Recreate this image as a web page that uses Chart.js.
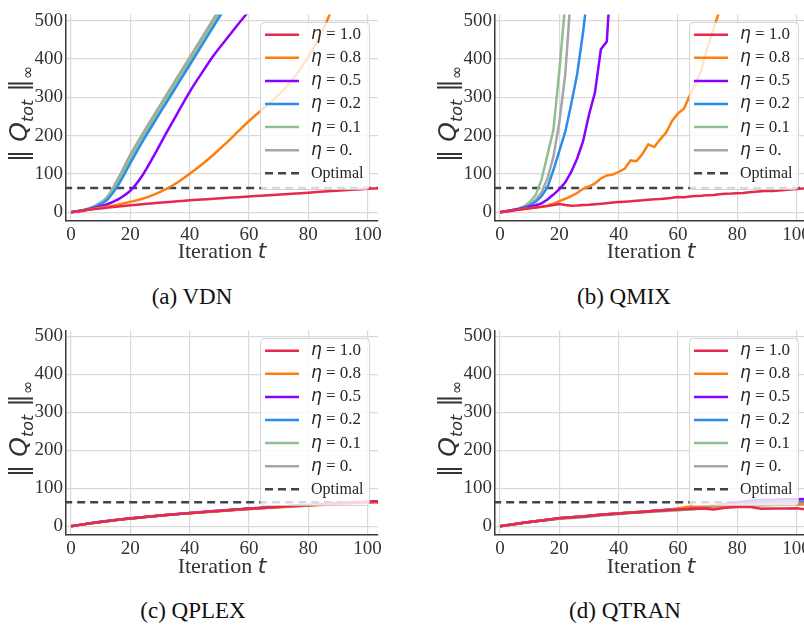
<!DOCTYPE html>
<html>
<head>
<meta charset="utf-8">
<script src="https://cdn.jsdelivr.net/npm/chart.js@4.4.1/dist/chart.umd.min.js"></script>
<style>
    html, body { margin: 0; padding: 0; background: #fff; overflow: hidden; width: 804px; height: 626px; }
    .panel { position: absolute; }
    .ylab {
        position: absolute; font-family: 'DejaVu Sans', sans-serif; font-size: 25px; color: #333;
        transform: translate(-50%, -50%) rotate(-90deg); white-space: nowrap;
    }
    .ylab sub { font-size: 16px; }
    .xlab {
        position: absolute; font-family: 'Liberation Serif', serif; font-size: 22px; color: #333;
        transform: translate(-50%, -50%); white-space: nowrap;
    }
    .xlab i { font-family: 'DejaVu Sans', sans-serif; }
    .caption {
        position: absolute; font-family: 'Liberation Serif', serif; font-size: 23px; color: #111;
        transform: translate(-50%, -50%); white-space: nowrap;
    }
</style>
</head>
<body>
<div class="panel" style="left:0px; top:0px"><canvas id="vdnChart" width="400" height="250"></canvas></div>
<div class="panel" style="left:429px; top:0px"><canvas id="qmixChart" width="400" height="250"></canvas></div>
<div class="panel" style="left:0px; top:316px"><canvas id="qplexChart" width="400" height="248"></canvas></div>
<div class="panel" style="left:429px; top:316px"><canvas id="qtranChart" width="400" height="248"></canvas></div>

<div class="ylab" style="left:20px; top:114px">‖ <i>Q</i><sub><i>tot</i></sub> ‖<sub>∞</sub></div>
<div class="ylab" style="left:449px; top:114px">‖ <i>Q</i><sub><i>tot</i></sub> ‖<sub>∞</sub></div>
<div class="ylab" style="left:20px; top:429px">‖ <i>Q</i><sub><i>tot</i></sub> ‖<sub>∞</sub></div>
<div class="ylab" style="left:449px; top:429px">‖ <i>Q</i><sub><i>tot</i></sub> ‖<sub>∞</sub></div>

<div class="xlab" style="left:222px; top:251px">Iteration <i>t</i></div>
<div class="xlab" style="left:651px; top:251px">Iteration <i>t</i></div>
<div class="xlab" style="left:222px; top:566px">Iteration <i>t</i></div>
<div class="xlab" style="left:651px; top:566px">Iteration <i>t</i></div>

<div class="caption" style="left:192px; top:297px">(a) VDN</div>
<div class="caption" style="left:624px; top:297px">(b) QMIX</div>
<div class="caption" style="left:193px; top:611px">(c) QPLEX</div>
<div class="caption" style="left:625px; top:611px">(d) QTRAN</div>

<script>
// Tick labels and legend text
const xTicks = [0, 20, 40, 60, 80, 100];
const yTicks = [0, 100, 200, 300, 400, 500];
const etaLabels = ['η = 1.0', 'η = 0.8', 'η = 0.5', 'η = 0.2', 'η = 0.1', 'η = 0.'];
const optimalValue = 63;

// iteration grids
const tStep4 = [0, 4, 8, 12, 16, 20, 24, 28, 32, 36, 40, 44, 48, 52, 56, 60, 64, 68, 72, 76, 80, 84, 88, 92, 96, 100, 104];
const tStep2 = [0, 2, 4, 6, 8, 10, 12, 14, 16, 18, 20, 22, 24, 26, 28, 30, 32, 34, 36, 38, 40, 42, 44, 46, 48, 50,
    52, 54, 56, 58, 60, 62, 64, 66, 68, 70, 72, 74, 76, 78, 80, 82, 84, 86, 88, 90, 92, 94, 96, 98, 100, 102, 104];

// (a) VDN - on tStep4, series stop once they leave the plot
const vdnEta10 = [0, 4, 8, 11.5, 15, 18, 21, 23.5, 26, 28.5, 31, 33, 35, 37, 39, 41, 43, 45, 47, 49, 51, 53, 55, 57, 59, 61, 63];
const vdnEta08 = [0, 4, 9, 14, 20, 27, 35, 46, 60, 78, 100, 124, 150, 178, 208, 238, 265, 292, 322, 360, 405, 460, 530];
const vdnEta05 = [0, 4.5, 11, 20, 34, 56, 95, 148, 205, 260, 314, 362, 408, 448, 487, 525];
const vdnEta02 = [0, 5, 14, 31, 72, 128, 183, 234, 284, 334, 384, 434, 484, 534];
const vdnEta01 = [0, 5, 15, 35, 82, 140, 194, 245, 295, 345, 395, 445, 495, 545];
const vdnEta00 = [0, 5, 16, 38, 90, 150, 203, 254, 304, 354, 404, 454, 504, 554];

// (b) QMIX - on tStep2
const qmixEta10 = [0, 2, 4, 6, 8, 10, 12, 14, 16, 18.5, 21, 18.5, 17, 17.5, 18.5, 19.5, 21, 22, 23.5, 25, 26.5, 27.5, 28.5,
    30, 31, 32.5, 33.5, 34.5, 36, 37.5, 39.5, 39, 41, 42, 43, 44.5, 45, 46.5, 48, 48.5, 49.5, 50, 52, 53, 54.5, 56, 55,
    56.5, 58, 59, 60.5, 61.5, 63];
const qmixEta08 = [0, 2, 4, 6, 8.5, 10.5, 12.5, 14.5, 17.5, 22, 29, 35, 42, 50, 61, 67, 75, 88, 96, 98, 105, 113, 135,
    133, 152, 177, 170, 190, 208, 238, 258, 270, 305, 335, 375, 430, 480, 525];
const qmixEta05 = [0, 2.5, 5, 7.5, 10.5, 14, 18, 23, 33, 46, 60, 78, 105, 140, 185, 255, 312, 425, 445, 700];
const qmixEta02 = [0, 2.5, 5, 8, 12, 18, 27, 42, 65, 110, 160, 210, 282, 360, 470, 600];
const qmixEta01 = [0, 2.5, 5.5, 9, 15, 26, 45, 85, 150, 215, 370, 545];
const qmixEta00 = [0, 2.5, 5, 8, 13, 20, 32, 52, 88, 145, 235, 360, 580];

// (c) QPLEX - on tStep4, all settings almost coincide
const qplexEta10 = [0, 5, 9.5, 13.5, 17, 20.5, 23.5, 26.5, 29.5, 32, 34.5, 37, 39.5, 41.5, 44, 46, 48, 50, 52, 54, 55.5, 57.5, 59, 61, 62.5, 64, 65.5];
const qplexEta08 = [0, 5, 9.5, 13.5, 17, 20.5, 23.5, 26.5, 29.5, 32, 34.5, 37, 39, 41, 43.5, 45.5, 47.5, 49.5, 51, 53, 54.5, 56, 57.5, 59, 60.5, 62, 63.5];
const qplexEta05 = [0, 5, 10, 14, 17.5, 21, 24, 27, 30, 32.5, 35, 37.5, 40, 42, 44.5, 46.5, 48.5, 50.5, 52.5, 54.5, 56, 58, 59.5, 61.5, 63, 64.5, 66];
const qplexEta02 = [0, 5, 9.5, 13.5, 17, 20.5, 23.5, 26.5, 29.5, 32.5, 35, 37, 39.5, 41.5, 44, 46, 48, 50, 52, 54, 55.5, 57.5, 59, 61, 62.5, 64, 65.5];
const qplexEta01 = [0, 5, 9.5, 13.5, 17, 20.5, 23.5, 26.5, 29.5, 32, 34.5, 37, 39.5, 41.5, 43.5, 45.5, 47.5, 49.5, 51.5, 53.5, 55, 57, 58.5, 60.5, 62, 63.5, 65];
const qplexEta00 = [0, 5, 9.5, 13.5, 17, 20.5, 23.5, 26.5, 29.5, 32, 34.5, 37, 39.5, 41.5, 43.5, 45.5, 47.5, 49.5, 51.5, 53.5, 55, 57, 58.5, 60.5, 62, 63.5, 65];

// (d) QTRAN - on tStep4, settings split apart after ~60
const qtranEta10 = [0, 4.5, 9, 13, 17, 21.5, 23.5, 26, 29, 31.5, 33.5, 36, 37.5, 40, 42, 44, 45.5, 46.5, 44.5, 49, 51, 51.5, 46, 46.5, 47, 47.5, 44];
const qtranEta08 = [0, 4.5, 9, 13, 17.5, 21, 24, 26.5, 29, 31.5, 34, 36, 38, 40.5, 42, 47, 52, 53, 54, 55, 56, 56.5, 57, 58, 58.5, 59, 59];
const qtranEta05 = [0, 4.5, 9, 13, 17, 21, 23.5, 26, 29, 31.5, 33.5, 36, 38.5, 41, 43, 45, 48, 51, 55, 59, 63, 67, 69, 70, 71, 71.5, 72];
const qtranEta02 = [0, 4.5, 9, 13, 17, 21, 23.5, 26, 29, 31.5, 33.5, 36, 38.5, 41, 43.5, 46, 48.5, 51, 54, 57, 60, 62, 63, 63.5, 64, 64.5, 65];
const qtranEta01 = [0, 4.5, 9, 13, 16.5, 20, 22.5, 25, 28, 31, 33, 35, 37, 39, 40.5, 42, 44, 46.5, 49, 51, 53, 55, 56.5, 57.5, 58.5, 59.5, 60];
const qtranEta00 = [0, 4.5, 9, 13, 16.5, 19.5, 21.5, 23.5, 27, 30, 32.5, 35, 37, 39, 41, 43, 45, 47, 49, 51, 53, 54, 55, 56, 56.5, 57, 57.5];

// line colours, same order as etaLabels
const lineColors = ['#e8294f', '#ff7f0e', '#8c00ff', '#2b8cee', '#8fbf8f', '#a6a6a6'];
const optimalColor = '#3c4650';

const X_MIN = -1.7, X_MAX = 103.5, Y_MIN = -23, Y_MAX = 516;

// legend drawn inside the plot, matplotlib style (framealpha 0.8)
const legendBox = {
    id: 'legendBox',
    afterDraw(chart) {
        const { ctx, chartArea } = chart;
        const w = 109, h = 167;
        const left = Math.round(chartArea.right - 9 - w);
        const top = Math.round(chartArea.top + 8);
        ctx.save();
        ctx.beginPath();
        ctx.roundRect(left + 0.5, top + 0.5, w, h, 4);
        ctx.fillStyle = 'rgba(255, 255, 255, 0.8)';
        ctx.fill();
        ctx.strokeStyle = 'rgba(204, 204, 204, 0.8)';
        ctx.lineWidth = 1;
        ctx.stroke();
        chart.data.datasets.forEach((ds, i) => {
            const y = top + 12.7 + i * 23.1;
            ctx.beginPath();
            ctx.setLineDash(ds.borderDash || []);
            ctx.strokeStyle = ds.borderColor;
            ctx.lineWidth = ds.borderWidth;
            ctx.moveTo(left + 5, y);
            ctx.lineTo(left + 39, y);
            ctx.stroke();
            ctx.setLineDash([]);
            ctx.fillStyle = '#262626';
            ctx.textBaseline = 'middle';
            let tx = left + 51;
            if (ds.label.startsWith('η')) {
                ctx.font = 'italic 17px "DejaVu Sans"';
                ctx.fillText('η', tx, y);
                tx += ctx.measureText('η').width;
                ctx.font = '17px "Liberation Serif"';
                ctx.fillText(ds.label.slice(1), tx, y);
            } else {
                ctx.font = '16px "Liberation Serif"';
                ctx.fillText(ds.label, tx, y);
            }
        });
        ctx.restore();
    }
};

function makeDatasets(ts, seriesList, smooth) {
    const sets = seriesList.map((ys, i) => ({
        label: etaLabels[i],
        data: ys.map((y, j) => ({ x: ts[j], y: y })),
        borderColor: lineColors[i],
        borderWidth: 2.5,
        pointRadius: 0,
        fill: false,
        tension: 0,
        cubicInterpolationMode: smooth ? 'monotone' : 'default'
    }));
    sets.push({
        label: 'Optimal',
        data: [{ x: X_MIN - 5, y: optimalValue }, { x: X_MAX + 5, y: optimalValue }],
        borderColor: optimalColor,
        borderWidth: 2.5,
        borderDash: [8, 5],
        pointRadius: 0,
        fill: false
    });
    return sets;
}

function makeChart(id, ts, seriesList, smooth) {
    const tickFont = { family: "'Liberation Serif', serif", size: 19 };
    return new Chart(document.getElementById(id).getContext('2d'), {
        type: 'line',
        data: { datasets: makeDatasets(ts, seriesList, smooth) },
        options: {
            responsive: false,
            animation: false,
            layout: { padding: { left: 0, right: 22, top: 7, bottom: 0 } },
            plugins: {
                legend: { display: false },
                tooltip: { enabled: false }
            },
            scales: {
                x: {
                    type: 'linear',
                    min: X_MIN,
                    max: X_MAX,
                    afterBuildTicks: axis => { axis.ticks = xTicks.map(v => ({ value: v })); },
                    afterFit: axis => { axis.height = 29; },
                    grid: { color: '#d9d9d9', lineWidth: 1.2, drawTicks: false },
                    border: { color: '#3a3a3a', width: 1.5 },
                    ticks: { font: tickFont, color: '#333', padding: 3, maxRotation: 0 }
                },
                y: {
                    min: Y_MIN,
                    max: Y_MAX,
                    afterBuildTicks: axis => { axis.ticks = yTicks.map(v => ({ value: v })); },
                    afterFit: axis => { axis.width = 66; },
                    grid: { color: '#d9d9d9', lineWidth: 1.2, drawTicks: false },
                    border: { color: '#3a3a3a', width: 1.5 },
                    ticks: { font: tickFont, color: '#333', padding: 3 }
                }
            }
        },
        plugins: [legendBox]
    });
}

document.addEventListener('DOMContentLoaded', function () {
    makeChart('vdnChart', tStep4, [vdnEta10, vdnEta08, vdnEta05, vdnEta02, vdnEta01, vdnEta00], true);
    makeChart('qmixChart', tStep2, [qmixEta10, qmixEta08, qmixEta05, qmixEta02, qmixEta01, qmixEta00], false);
    makeChart('qplexChart', tStep4, [qplexEta10, qplexEta08, qplexEta05, qplexEta02, qplexEta01, qplexEta00], true);
    makeChart('qtranChart', tStep4, [qtranEta10, qtranEta08, qtranEta05, qtranEta02, qtranEta01, qtranEta00], false);
});
</script>
</body>
</html>
